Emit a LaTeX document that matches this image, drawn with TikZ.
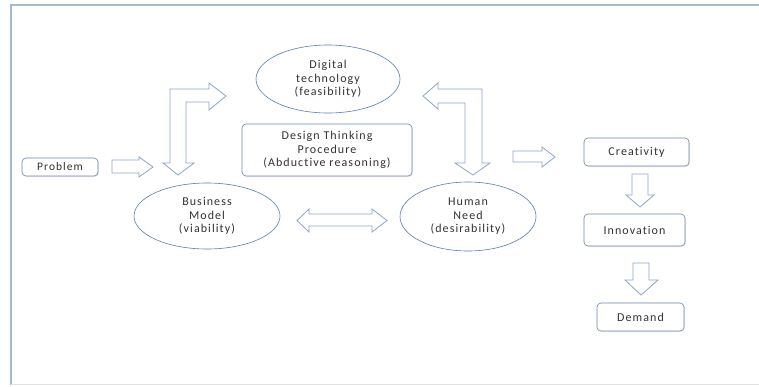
\documentclass[tikz,border=0pt]{standalone}
\usepackage{fontspec}
\setmainfont{Carlito}[LetterSpace=9, RawFeature={-liga;-clig}]
\usetikzlibrary{shapes.geometric,shadows}
\definecolor{framec}{RGB}{165,185,208}
\definecolor{boxc}{RGB}{110,135,170}
\definecolor{ellc}{RGB}{90,125,180}
\definecolor{arrc}{RGB}{140,165,200}
\definecolor{txtc}{RGB}{50,50,50}
\tikzset{
  lbl/.style={text=txtc, font=\fontsize{12}{13.5}\selectfont, align=center, inner sep=0pt},
  rbox/.style={lbl, draw=boxc, line width=0.6pt, rounded corners=4pt, fill=white,
    drop shadow={opacity=0.18, shadow xshift=1pt, shadow yshift=-1pt}},
  oval/.style={lbl, ellipse, draw=ellc, line width=0.6pt, fill=white},
  barrow/.style={draw=arrc, line width=0.8pt, fill=white, line join=miter}
}
\begin{document}
\begin{tikzpicture}[x=1pt,y=-1pt]
\useasboundingbox (0,0) rectangle (759,386);
\fill[white] (0,0) rectangle (759,386);
\draw[framec, line width=1.2pt] (762,5) -- (11,5) -- (11,385);
\draw[framec!40, line width=0.8pt] (11,384) -- (762,384);

% nodes
\node[rbox, minimum width=76pt, minimum height=18pt, font=\fontsize{11.5}{13}\selectfont] (prob) at (60,167) {Problem};
\node[oval, minimum width=144pt, minimum height=68pt] (dig) at (328,79) {Digital\\technology\\(feasibility)};
\node[rbox, minimum width=170pt, minimum height=52pt] (dtp) at (327,150) {Design Thinking\\Procedure\\(Abductive reasoning)};
\node[oval, minimum width=146pt, minimum height=66pt] (bus) at (207,216) {Business\\Model\\(viability)};
\node[oval, minimum width=136pt, minimum height=69pt] (hum) at (468,216.5) {Human\\Need\\(desirability)};
\node[rbox, minimum width=105pt, minimum height=28pt] (cre) at (636.5,152) {Creativity};
\node[rbox, minimum width=101pt, minimum height=32pt] (inn) at (634.5,230) {Innovation};
\node[rbox, minimum width=87pt, minimum height=28pt] (dem) at (640.5,317) {Demand};

% block arrows
% Problem -> loop
\draw[barrow] (112,160) -- (139,160) -- (139,157) -- (153,167) -- (139,177) -- (139,173) -- (112,173) -- cycle;
% left bent double arrow
\draw[barrow] (226,96) -- (209,83) -- (209,89) -- (170,89) -- (170,163) -- (163,163) -- (178,175)
  -- (194,163) -- (186,163) -- (186,102) -- (209,102) -- (209,110) -- cycle;
% right bent double arrow
\draw[barrow] (423,96) -- (438,83) -- (438,89) -- (482,89) -- (482,163) -- (490,163) -- (473,175)
  -- (455,163) -- (465,163) -- (465,103) -- (438,103) -- (438,109) -- cycle;
% horizontal double arrow
\draw[barrow] (297,220.5) -- (309,209) -- (309,214) -- (372,214) -- (372,209) -- (387,220.5)
  -- (372,232) -- (372,226) -- (309,226) -- (309,232) -- cycle;
% to creativity
\draw[barrow] (513,151) -- (542,151) -- (542,147) -- (555,157) -- (542,167) -- (542,162) -- (513,162) -- cycle;
% creativity -> innovation
\draw[barrow] (632,174) -- (648,174) -- (648,195) -- (654,195) -- (640,207) -- (626,195) -- (632,195) -- cycle;
% innovation -> demand
\draw[barrow] (633,263) -- (649,263) -- (649,280) -- (658,280) -- (641,295) -- (625,280) -- (633,280) -- cycle;
\end{tikzpicture}
\end{document}
